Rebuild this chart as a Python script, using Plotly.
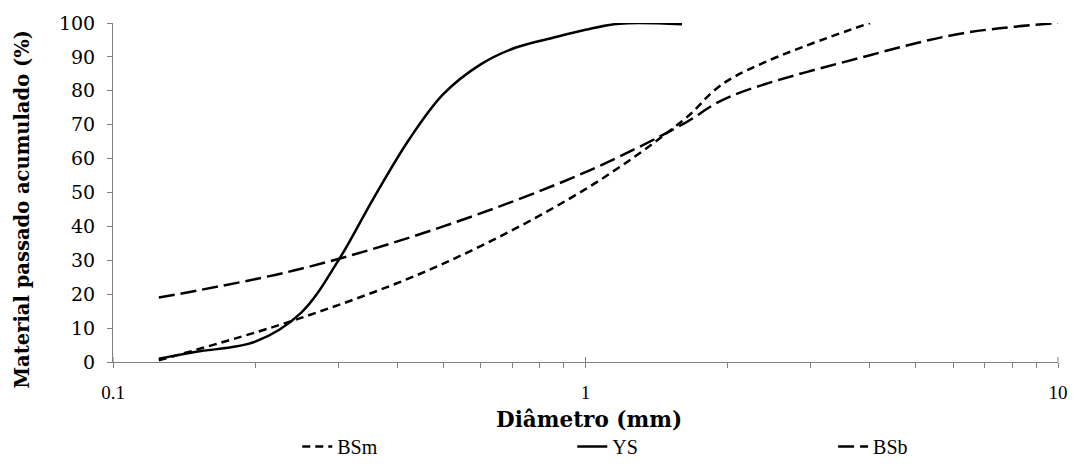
import plotly.graph_objects as go

# Data
ys_d = [0.125, 0.15, 0.2, 0.25, 0.3, 0.355, 0.425, 0.5, 0.6, 0.71, 0.85, 1.0, 1.18, 1.6]
ys_p = [1.0, 3.0, 6.0, 14.5, 30.0, 48.0, 66.0, 79.0, 87.8, 92.7, 95.6, 98.0, 99.8, 99.6]

bsm_d = [0.125, 0.25, 0.5, 1.0, 1.6, 2.0, 4.0]
bsm_p = [0.5, 13.0, 29.0, 51.0, 71.0, 83.0, 100.0]

bsb_d = [0.125, 0.25, 0.5, 1.0, 1.6, 2.0, 4.0, 6.3, 10.0]
bsb_p = [19.0, 27.5, 40.0, 56.0, 70.0, 78.0, 90.5, 97.0, 100.0]

y_ticks = list(range(0, 101, 10))
x_major = [0.1, 1, 10]
x_major_text = ["0.1", "1", "10"]
x_minor = [m * 10 ** e for e in (-1, 0) for m in range(2, 10)]

fig = go.Figure()
fig.add_trace(go.Scatter(x=bsm_d, y=bsm_p, name="BSm", mode="lines", legend="legend",
                         line=dict(color="black", width=2.5, dash="8px,5px", shape="spline")))
fig.add_trace(go.Scatter(x=ys_d, y=ys_p, name="YS", mode="lines", legend="legend2",
                         line=dict(color="black", width=2.5, shape="spline")))
fig.add_trace(go.Scatter(x=bsb_d, y=bsb_p, name="BSb", mode="lines", legend="legend3",
                         line=dict(color="black", width=2.5, dash="16px,6px", shape="spline")))

axis_col = "#808080"
leg_font = dict(family="Liberation Serif", size=20, color="black")


def leg(x):
    return dict(orientation="h", x=x, xanchor="left", xref="paper",
                y=-0.008, yanchor="bottom", yref="container",
                font=leg_font, bgcolor="rgba(0,0,0,0)")


fig.update_layout(
    width=1080, height=466,
    margin=dict(l=113, r=16, t=21, b=104),
    paper_bgcolor="white", plot_bgcolor="white",
    showlegend=True,
    legend=leg(0.195), legend2=leg(0.486), legend3=leg(0.762),
    xaxis=dict(type="log", range=[-1, 1], showgrid=False, zeroline=False,
               showline=True, linecolor=axis_col, linewidth=1,
               tickmode="array", tickvals=x_major, ticktext=x_major_text,
               ticks="outside", ticklen=5, tickcolor=axis_col,
               ticklabelstandoff=8,
               minor=dict(tickvals=x_minor, ticks="outside", ticklen=5, tickcolor=axis_col, showgrid=False),
               tickfont=dict(family="Liberation Serif", size=19, color="black")),
    yaxis=dict(range=[0, 100], showgrid=False, zeroline=False,
               showline=True, linecolor=axis_col, linewidth=1,
               tickmode="array", tickvals=y_ticks,
               ticks="outside", ticklen=5, tickcolor=axis_col,
               ticklabelstandoff=8,
               tickfont=dict(family="DejaVu Serif", size=19, color="black")),
)

# axis titles placed as in the reference
fig.add_annotation(text="<b>Diâmetro (mm)</b>", xref="paper", yref="paper", x=0.504, y=-58 / 341,
                   xanchor="center", yanchor="middle", showarrow=False,
                   font=dict(family="DejaVu Serif", size=21.5, color="black"))
fig.add_annotation(text="<b>Material passado acumulado (%)</b>", xref="paper", yref="paper",
                   x=-91 / 951, y=(362 - 209) / 341, xanchor="center", yanchor="middle",
                   textangle=-90, showarrow=False,
                   font=dict(family="DejaVu Serif", size=19.5, color="black"))

# inward part of the major x ticks (they cross the axis line in the reference)
for px in (0.0, 0.5, 1.0):
    fig.add_shape(type="line", xref="paper", yref="paper", x0=px, x1=px, y0=0, y1=5 / 341,
                  line=dict(color=axis_col, width=1))

fig.write_html("out.html", config={"displayModeBar": False},
               post_script="document.body.style.margin='0px';")
